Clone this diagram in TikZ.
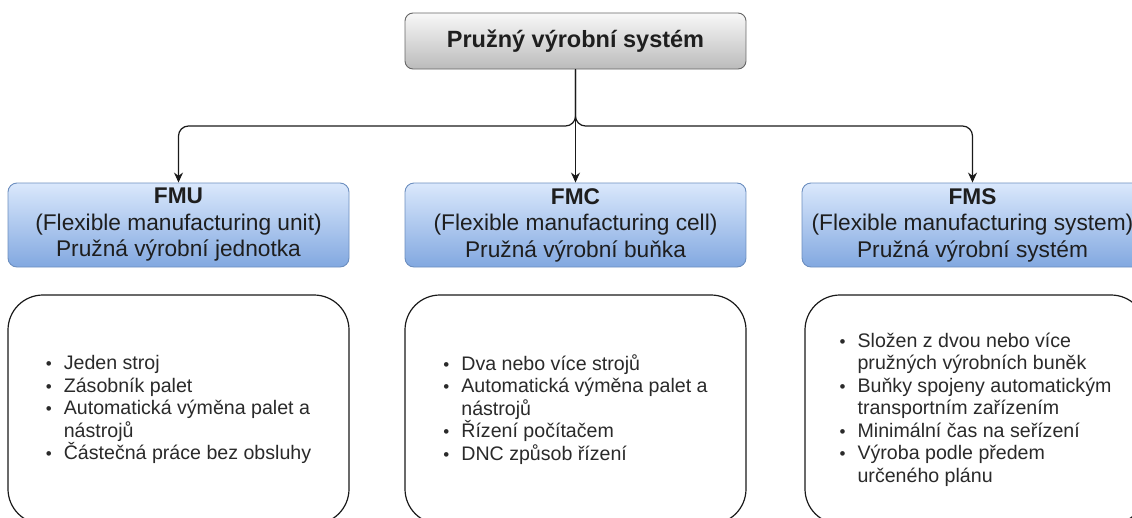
\documentclass[tikz,border=0pt]{standalone}
\usepackage{fontspec}
\setmainfont{Liberation Sans}
\usetikzlibrary{arrows.meta}

\definecolor{titletop}{HTML}{F8F8F8}
\definecolor{titlebot}{HTML}{BBBBBB}
\definecolor{titleline}{HTML}{666666}
\definecolor{bluetop}{HTML}{DAE8FC}
\definecolor{bluebot}{HTML}{82A8E0}
\definecolor{blueline}{HTML}{6C8EBF}
\definecolor{ink}{HTML}{1E1E1E}
\definecolor{listink}{HTML}{2A2A2A}
\definecolor{wire}{HTML}{1A1A1A}

\tikzset{
  titlebox/.style={draw=titleline, line width=0.9pt, rounded corners=8pt,
    top color=titletop, bottom color=titlebot, minimum width=341pt,
    minimum height=56pt, inner sep=0pt, text=ink,
    font=\fontsize{23.5}{27}\selectfont\bfseries},
  typebox/.style={draw=blueline, line width=0.9pt, rounded corners=9pt,
    top color=bluetop, bottom color=bluebot, minimum width=341pt,
    minimum height=84pt, inner sep=0pt, align=center, text=ink,
    font=\fontsize{22.7}{26.5}\selectfont},
  listbox/.style={draw=wire, line width=1.2pt, rounded corners=35pt,
    fill=white, minimum width=341pt, minimum height=229pt, inner sep=0pt,
    align=left, text=listink, font=\fontsize{19.6}{22.5}\selectfont},
  conn/.style={draw=wire, line width=1.2pt, rounded corners=10pt,
    -{Stealth[length=10pt,width=9pt]}},
}
\newcommand{\itm}{\makebox[18pt][l]{\fontsize{17}{17}\selectfont •}}
\newcommand{\cnt}{\hspace*{18pt}}

\begin{document}
\begin{tikzpicture}[x=1pt,y=-1pt]
  \useasboundingbox (0,0) rectangle (1132,517);
  \clip (0,0) rectangle (1132,517);

  % root
  \node[titlebox] (root) at (575.5,41) {Pružný výrobní systém};

  % the three kinds of flexible systems
  \node[typebox] (fmu) at (178.5,225)
    {\textbf{FMU}\\(Flexible manufacturing unit)\\Pružná výrobní jednotka};
  \node[typebox] (fmc) at (575.5,225)
    {\textbf{FMC}\\(Flexible manufacturing cell)\\Pružná výrobní buňka};
  \node[typebox] (fms) at (972.5,225)
    {\textbf{FMS}\\(Flexible manufacturing system)\\Pružná výrobní systém};

  % branch line
  \coordinate (bus) at (575.5,126);
  \draw[conn] (root.south) -- (root.south |- bus) -| (fmu.north);
  \draw[conn] (root.south) -- (fmc.north);
  \draw[conn] (root.south) -- (root.south |- bus) -| (fms.north);

  % characteristics
  \node[listbox] (lfmu) at (178.5,409.5)
    {\itm Jeden stroj\\
     \itm Zásobník palet\\
     \itm Automatická výměna palet a\\
     \cnt nástrojů\\
     \itm Částečná práce bez obsluhy};
  \node[listbox] (lfmc) at (575.5,409.5)
    {\itm Dva nebo více strojů\\
     \itm Automatická výměna palet a\\
     \cnt nástrojů\\
     \itm Řízení počítačem\\
     \itm DNC způsob řízení};
  \node[listbox] (lfms) at (975.5,409.5)
    {\itm Složen z dvou nebo více\\
     \cnt pružných výrobních buněk\\
     \itm Buňky spojeny automatickým\\
     \cnt transportním zařízením\\
     \itm Minimální čas na seřízení\\
     \itm Výroba podle předem\\
     \cnt určeného plánu};
\end{tikzpicture}
\end{document}
